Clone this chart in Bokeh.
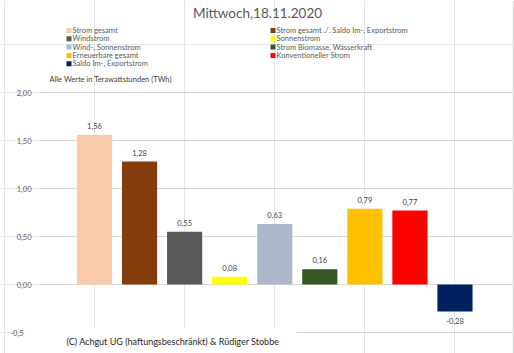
from bokeh.plotting import figure
from bokeh.models import Range1d
from bokeh.core.properties import value
from bokeh.embed import file_html
from bokeh.resources import INLINE

# ---- data ----
categories = ["Strom gesamt", "Strom gesamt ./. Saldo Im-, Exportstrom", "Windstrom",
              "Sonnenstrom", "Wind-, Sonnenstrom", "Strom Biomasse, Wasserkraft",
              "Erneuerbare gesamt", "Konventioneller Strom", "Saldo Im-, Exportstrom"]
values = [1.56, 1.28, 0.55, 0.08, 0.63, 0.16, 0.79, 0.77, -0.28]
colors = ["#F8CBAD", "#843C0C", "#595959", "#FFFF00", "#ADB9CA", "#375623",
          "#FFC000", "#FF0000", "#002060"]
y_ticks = [2.0, 1.5, 1.0, 0.5, 0.0, -0.5]
y_tick_labels = ["2,00", "1,50", "1,00", "0,50", "0,00", "-0,5"]
title_text = "Mittwoch,18.11.2020"
unit_text = "Alle Werte in Terawattstunden (TWh)"
footer_text = "(C) Achgut UG (haftungsbeschränkt) & Rüdiger Stobbe"

W, H = 514, 353
FONT = value("Lato")

# pixel -> data helpers (layout only)
X0, DX = 94.0, 45.06
Y0, DY = 284.0, 96.0
def sx(px):
    return (px - X0) / DX
def sy(py):
    return (Y0 - py) / DY

p = figure(width=W, height=H, output_backend="svg", toolbar_location=None,
           x_axis_location=None, y_axis_location=None,
           x_range=Range1d(sx(0), sx(W)), y_range=Range1d(sy(H), sy(0)),
           min_border=0, outline_line_color=None, background_fill_color="white")
p.border_fill_color = "white"

# grid lines
p.segment(x0=[sx(38)] * len(y_ticks), x1=[sx(512)] * len(y_ticks),
          y0=y_ticks, y1=y_ticks, line_color="#d9d9d9", line_width=1)
# right border
p.segment(x0=[sx(513)], x1=[sx(513)], y0=[sy(0)], y1=[sy(H)], line_color="#d9d9d9", line_width=1.5)

# bars
idx = list(range(len(values)))
p.vbar(x=idx, top=values, bottom=0, width=0.78, fill_color=colors, line_color=None)

# data labels
lab_y = [v + 9 / DY if v >= 0 else v - 10 / DY for v in values]
lab_t = [f"{v:.2f}".replace(".", ",") for v in values]
p.text(x=idx, y=lab_y, text=lab_t, text_font=FONT, text_font_size="7.5px",
       text_color="#404040", text_align="center", text_baseline="middle")

# footer box (covers bottom grid line)
p.quad(left=[sx(24)], right=[sx(296)], bottom=[sy(H)], top=[sy(327)],
       fill_color="white", line_color=None)

# y tick labels
tick_x = [sx(31)] * (len(y_ticks) - 1) + [sx(23)]
p.text(x=tick_x, y=y_ticks, text=y_tick_labels, text_font=FONT, text_font_size="7.5px",
       text_color="#595959", text_align="right", text_baseline="middle")

# title
p.text(x=[sx(257)], y=[sy(12)], text=[title_text], text_font=FONT, text_font_size="13.5px",
       text_color="#595959", text_align="center", text_baseline="middle")

# legend (two columns, row-major)
lx, ly = [], []
for i in range(len(categories)):
    col, row = i % 2, i // 2
    lx.append(66 + col * 204)
    ly.append(30 + row * 8.3)
p.rect(x=[sx(v + 2.5) for v in lx], y=[sy(v) for v in ly], width=5 / DX, height=5 / DY,
       fill_color=colors, line_color=None)
p.text(x=[sx(v + 6) for v in lx], y=[sy(v) for v in ly], text=categories, text_font=FONT,
       text_font_size="7.5px", text_color="#595959", text_align="left", text_baseline="middle")

# unit note
p.text(x=[sx(49)], y=[sy(79)], text=[unit_text], text_font=FONT, text_font_size="7.5px",
       text_color="#404040", text_align="left", text_baseline="middle")

# footer
p.text(x=[sx(66)], y=[sy(341)], text=[footer_text], text_font=FONT, text_font_size="9px",
       text_color="#262626", text_align="left", text_baseline="middle")

open("out.html", "w").write(file_html(p, INLINE))
